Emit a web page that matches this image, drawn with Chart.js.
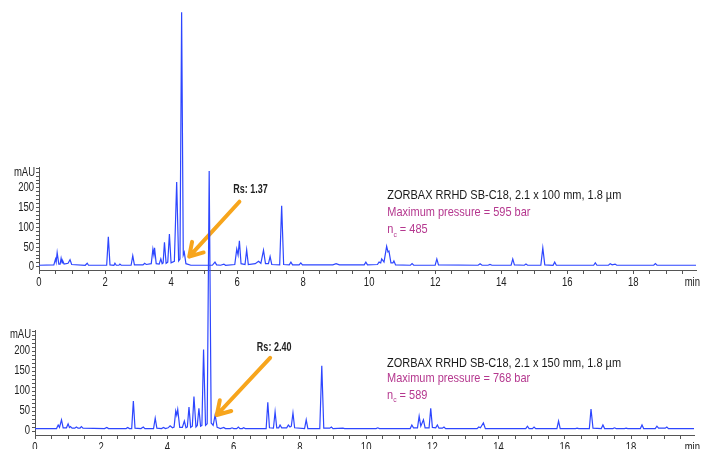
<!DOCTYPE html>
<html>
<head>
<meta charset="utf-8">
<script src="https://cdn.jsdelivr.net/npm/chart.js@4.4.1/dist/chart.umd.min.js"></script>
<style>
  html, body { margin: 0; padding: 0; background: #fff; }
  #wrap { position: relative; width: 701px; height: 449px; }
  canvas { position: absolute; left: 0; top: 0; }
</style>
</head>
<body>
<div id="wrap">
  <canvas id="topChart" width="701" height="449"></canvas>
  <canvas id="bottomChart" width="701" height="449"></canvas>
</div>
<script>
// Chromatogram points: [time (min), signal (mAU)]
const topTrace = [
  [0, 4], [0.45, 5], [0.5, 20], [0.52, 12], [0.55, 36], [0.6, 7], [0.64, 7], [0.67, 22], [0.7, 10], [0.72, 15],
  [0.76, 7], [0.88, 9], [0.94, 18], [0.99, 6], [1.4, 4], [1.46, 9], [1.5, 4], [2.05, 4], [2.1, 76], [2.15, 5],
  [2.27, 4], [2.3, 9], [2.34, 4], [2.42, 4], [2.45, 7], [2.49, 4], [2.79, 4], [2.84, 28], [2.89, 5], [3.15, 5],
  [3.2, 9], [3.25, 6], [3.4, 8], [3.45, 45], [3.48, 30], [3.5, 48], [3.55, 8], [3.64, 7], [3.69, 20], [3.73, 8],
  [3.76, 10], [3.8, 62], [3.85, 9], [3.9, 12], [3.95, 83], [4.0, 10], [4.1, 14], [4.17, 215], [4.23, 15], [4.27, 20],
  [4.32, 645], [4.37, 30], [4.4, 37], [4.45, 8], [4.6, 4], [5.25, 4], [5.33, 12], [5.38, 5], [5.5, 4], [5.6, 7],
  [5.65, 4], [5.93, 6], [5.99, 45], [6.03, 30], [6.07, 66], [6.12, 8], [6.24, 6], [6.29, 43], [6.34, 6], [6.55, 8],
  [6.65, 14], [6.72, 9], [6.8, 42], [6.86, 8], [6.95, 8], [7.0, 26], [7.05, 6], [7.29, 5], [7.35, 155], [7.41, 6],
  [7.58, 5], [7.63, 12], [7.68, 5], [7.88, 5], [7.93, 10], [7.98, 5], [8.9, 5], [9.0, 8], [9.1, 5], [9.85, 5],
  [9.9, 12], [9.95, 5], [10.25, 6], [10.3, 12], [10.35, 10], [10.38, 20], [10.45, 12], [10.53, 52], [10.57, 38], [10.6, 40],
  [10.66, 10], [10.72, 10], [10.75, 15], [10.8, 5], [11.25, 4], [11.3, 8], [11.35, 4], [12.0, 4], [12.05, 20], [12.1, 5],
  [13.3, 4], [13.36, 8], [13.42, 4], [13.6, 4], [13.66, 6], [13.72, 4], [14.3, 4], [14.35, 20], [14.4, 5], [14.7, 4],
  [14.75, 7], [14.8, 4], [15.2, 4], [15.26, 48], [15.32, 5], [15.57, 4], [15.62, 12], [15.67, 4], [16.8, 4], [16.85, 10],
  [16.9, 4], [17.25, 4], [17.3, 8], [17.36, 5], [17.45, 7], [17.5, 4], [18.62, 4], [18.67, 8], [18.72, 4], [19.9, 4]
];

const bottomTrace = [
  [0, 6], [0.65, 6], [0.7, 15], [0.74, 9], [0.8, 28], [0.85, 8], [0.95, 8], [1.0, 18], [1.04, 9], [1.07, 11],
  [1.12, 7], [1.2, 7], [1.25, 10], [1.3, 7], [1.36, 7], [1.4, 11], [1.45, 7], [2.1, 6], [2.17, 9], [2.22, 6],
  [2.75, 6], [2.8, 9], [2.85, 6], [2.92, 6], [2.97, 75], [3.02, 7], [3.2, 6], [3.27, 10], [3.32, 6], [3.58, 6],
  [3.63, 32], [3.68, 7], [3.82, 6], [3.88, 9], [3.94, 6], [4.02, 8], [4.08, 13], [4.15, 8], [4.2, 10], [4.25, 50],
  [4.28, 40], [4.31, 54], [4.37, 9], [4.45, 9], [4.51, 25], [4.56, 8], [4.6, 10], [4.65, 60], [4.7, 9], [4.75, 12],
  [4.8, 86], [4.86, 10], [4.9, 14], [4.95, 57], [5.0, 12], [5.04, 14], [5.09, 204], [5.15, 14], [5.2, 18], [5.26, 650],
  [5.32, 20], [5.38, 14], [5.44, 40], [5.5, 9], [5.6, 6], [5.7, 9], [5.75, 6], [5.9, 6], [5.95, 8], [6.0, 6],
  [6.09, 6], [6.14, 10], [6.19, 6], [6.26, 6], [6.3, 8], [6.35, 6], [6.98, 6], [7.03, 72], [7.08, 8], [7.2, 7],
  [7.25, 48], [7.3, 8], [7.36, 8], [7.4, 15], [7.45, 8], [7.6, 8], [7.65, 15], [7.7, 10], [7.74, 12], [7.79, 45],
  [7.84, 8], [8.14, 6], [8.19, 28], [8.24, 6], [8.6, 6], [8.66, 163], [8.72, 7], [8.9, 7], [8.95, 10], [9.0, 6],
  [9.3, 7], [9.35, 6], [10.3, 6], [10.35, 8], [10.4, 6], [11.33, 6], [11.38, 15], [11.43, 8], [11.55, 8], [11.6, 37],
  [11.65, 12], [11.73, 28], [11.78, 8], [11.9, 8], [11.95, 57], [12.0, 9], [12.1, 8], [12.15, 15], [12.2, 7], [12.3, 7],
  [12.35, 10], [12.4, 6], [13.35, 6], [13.4, 10], [13.45, 8], [13.54, 20], [13.6, 6], [14.82, 6], [14.87, 12], [14.92, 6],
  [15.02, 6], [15.07, 10], [15.12, 6], [15.76, 6], [15.81, 25], [15.86, 6], [16.32, 6], [16.37, 7], [16.42, 6], [16.74, 6],
  [16.79, 55], [16.85, 7], [17.1, 6], [17.15, 15], [17.2, 6], [17.45, 6], [17.5, 8], [17.55, 6], [17.8, 6], [17.85, 7],
  [17.9, 6], [18.28, 6], [18.33, 15], [18.38, 6], [18.73, 6], [18.78, 12], [18.83, 7], [19.03, 7], [19.08, 10], [19.13, 6],
  [19.9, 6]
];

// Axis ticks
const xLabelTicks = [0, 2, 4, 6, 8, 10, 12, 14, 16, 18];
const yLabelTicks = [0, 50, 100, 150, 200];
const yUnitTick = 240;

// Column descriptions
const topInfo = ['ZORBAX RRHD SB-C18, 2.1 x 100 mm, 1.8 \u00b5m', 'Maximum pressure = 595 bar', '485'];
const bottomInfo = ['ZORBAX RRHD SB-C18, 2.1 x 150 mm, 1.8 \u00b5m', 'Maximum pressure = 768 bar', '589'];
const topRs = 'Rs: 1.37';
const bottomRs = 'Rs: 2.40';

const fonte = '"Liberation Sans", Arial, sans-serif';

// condensed text: the original uses a narrow face, so squeeze it horizontally
function texto(ctx, str, x, y, align, sx) {
  ctx.save();
  ctx.translate(x, y);
  ctx.scale(sx, 1);
  ctx.textAlign = align;
  ctx.fillText(str, 0, 0);
  let w = ctx.measureText(str).width * sx;
  ctx.restore();
  return w;
}

// Draws tick labels, arrow, Rs label, column text and the "min" unit
const notasPlugin = {
  id: 'notas',
  afterDraw(chart, args, opts) {
    let ctx = chart.ctx;
    let x = chart.scales.x, y = chart.scales.y;
    ctx.save();

    // tick labels
    ctx.fillStyle = '#222';
    ctx.font = '12.5px ' + fonte;
    ctx.textBaseline = 'top';
    xLabelTicks.forEach(v => texto(ctx, String(v), x.getPixelForValue(v), x.top + 6, 'center', 0.76));
    texto(ctx, 'min', 700, x.top + 6, 'right', 0.76);
    ctx.textBaseline = 'middle';
    yLabelTicks.forEach(v => texto(ctx, String(v), y.right - 5, y.getPixelForValue(v), 'right', 0.76));
    texto(ctx, 'mAU', y.right - 4, y.getPixelForValue(yUnitTick), 'right', 0.76);

    // orange arrow
    let x1 = x.getPixelForValue(opts.seta[0]), y1 = y.getPixelForValue(opts.seta[1]);
    let x2 = x.getPixelForValue(opts.seta[2]), y2 = y.getPixelForValue(opts.seta[3]);
    let ang = Math.atan2(y2 - y1, x2 - x1);
    ctx.strokeStyle = '#f7a51c';
    ctx.lineWidth = 4;
    ctx.lineCap = 'round';
    ctx.lineJoin = 'round';
    ctx.beginPath();
    ctx.moveTo(x1, y1);
    ctx.lineTo(x2, y2);
    ctx.moveTo(x2 - 15 * Math.cos(ang - 0.55), y2 - 15 * Math.sin(ang - 0.55));
    ctx.lineTo(x2, y2);
    ctx.lineTo(x2 - 15 * Math.cos(ang + 0.55), y2 - 15 * Math.sin(ang + 0.55));
    ctx.stroke();

    // Rs label
    ctx.fillStyle = '#222';
    ctx.font = 'bold 12.5px ' + fonte;
    texto(ctx, opts.rs, x.getPixelForValue(opts.rsPos[0]), y.getPixelForValue(opts.rsPos[1]), 'left', 0.72);

    // column info
    let tx = x.getPixelForValue(opts.infoPos[0]);
    let ty = opts.infoPos.slice(1).map(v => y.getPixelForValue(v));
    ctx.font = '13px ' + fonte;
    ctx.fillStyle = '#1a1a1a';
    texto(ctx, opts.info[0], tx, ty[0], 'left', 0.845);
    ctx.fillStyle = '#b5388f';
    texto(ctx, opts.info[1], tx, ty[1], 'left', 0.845);
    let nw = texto(ctx, 'n', tx, ty[2], 'left', 0.845);
    ctx.font = '8px ' + fonte;
    let cw = texto(ctx, 'c', tx + nw, ty[2] + 5, 'left', 0.845);
    ctx.font = '13px ' + fonte;
    texto(ctx, ' = ' + opts.info[2], tx + nw + cw, ty[2], 'left', 0.845);
    ctx.restore();
  }
};

function montarOpcoes(yMin, yMax, yWidth, xHeight, padding, notas) {
  return {
    responsive: false,
    animation: false,
    devicePixelRatio: 1,
    layout: { padding: padding },
    plugins: { legend: { display: false }, tooltip: { enabled: false }, notas: notas },
    scales: {
      x: {
        type: 'linear',
        min: 0,
        max: 19.9,
        afterFit: s => { s.height = xHeight; },
        afterBuildTicks: s => {
          let lista = [];
          for (let i = 0; i <= 39; i++) lista.push({ value: i / 2 });
          s.ticks = lista;
        },
        border: { color: '#555', width: 1 },
        grid: { drawOnChartArea: false, tickLength: 4, color: '#555' },
        ticks: { display: false, autoSkip: false }
      },
      y: {
        min: yMin,
        max: yMax,
        afterFit: s => { s.width = yWidth; },
        afterBuildTicks: s => {
          let lista = [];
          for (let v = 0; v <= 250; v += 10) lista.push({ value: v });
          s.ticks = lista;
        },
        border: { color: '#555', width: 1 },
        grid: { drawOnChartArea: false, tickLength: 3, color: '#555' },
        ticks: { display: false, autoSkip: false }
      }
    }
  };
}

function criarGrafico(id, trace, opcoes) {
  return new Chart(document.getElementById(id).getContext('2d'), {
    type: 'line',
    data: {
      datasets: [{
        data: trace.map(p => ({ x: p[0], y: p[1] })),
        borderColor: '#2d46ff',
        borderWidth: 1.2,
        pointRadius: 0,
        tension: 0,
        clip: false
      }]
    },
    options: opcoes,
    plugins: [notasPlugin]
  });
}

// top panel: 100 mm column
criarGrafico('topChart', topTrace, montarOpcoes(-8, 253, 39, 20,
  { top: 167, bottom: 159, left: 0, right: 5 },
  { seta: [6.07, 165, 4.55, 26], rs: topRs, rsPos: [5.88, 195], info: topInfo, infoPos: [10.55, 180, 137, 94] }));

// bottom panel: 150 mm column
criarGrafico('bottomChart', bottomTrace, montarOpcoes(-10, 252.5, 35, 14,
  { top: 330, bottom: 0, left: 0, right: 7 },
  { seta: [7.1, 183, 5.49, 40], rs: bottomRs, rsPos: [6.7, 209], info: bottomInfo, infoPos: [10.63, 170, 132, 90] }));
</script>
</body>
</html>
